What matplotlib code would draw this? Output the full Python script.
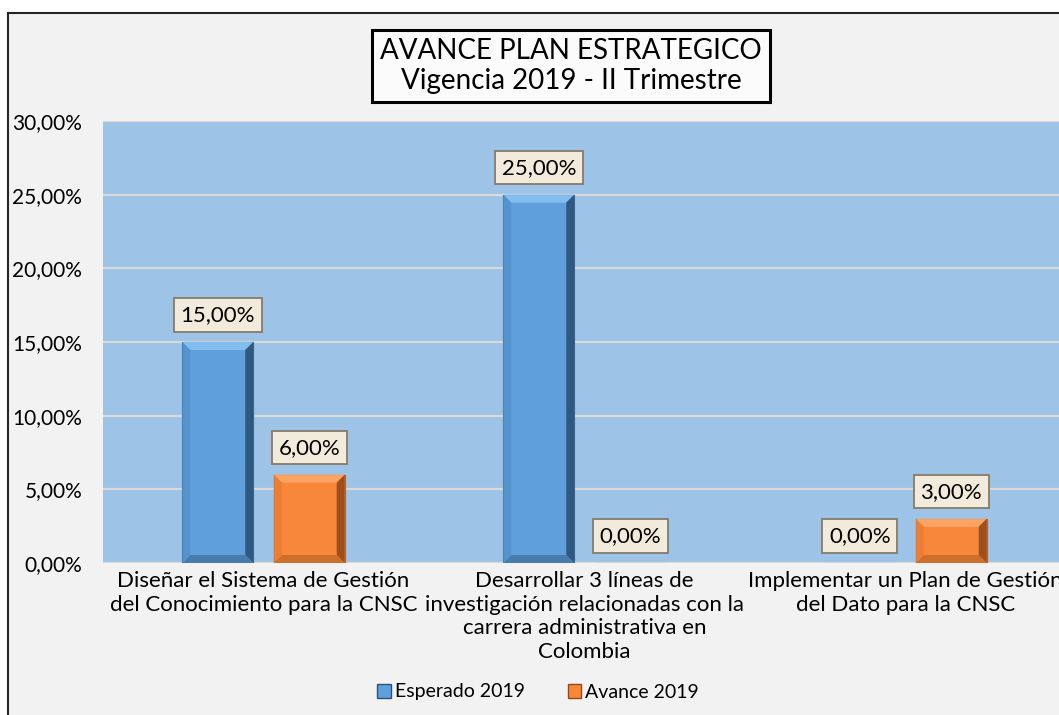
import matplotlib
matplotlib.use("Agg")
import matplotlib.pyplot as plt
from matplotlib.patches import Polygon, Rectangle, Patch
from matplotlib.ticker import FuncFormatter
import numpy as np

plt.rcParams['font.family'] = ['Lato', 'DejaVu Sans']

categories = [
    "Diseñar el Sistema de Gestión\ndel Conocimiento para la CNSC",
    "Desarrollar 3 líneas de\ninvestigación relacionadas con la\ncarrera administrativa en\nColombia",
    "Implementar un Plan de Gestión\ndel Dato para la CNSC",
]
series_names = ["Esperado 2019", "Avance 2019"]
esperado = [15.0, 25.0, 0.0]
avance = [6.0, 0.0, 3.0]
yticks = [0, 5, 10, 15, 20, 25, 30]
title_lines = ["AVANCE PLAN ESTRATEGICO", "Vigencia 2019 - II Trimestre"]

W, H = 1059, 715
DPI = 100
FS = 16
fig = plt.figure(figsize=(W / DPI, H / DPI), dpi=DPI)
fig.patch.set_facecolor('white')

# chart area background with border (left/top visible)
fig.add_artist(Rectangle((8 / W, -0.05), 1.1, 1 - 13 / H + 0.05,
                         transform=fig.transFigure, facecolor='#f2f2f2',
                         edgecolor='#262626', linewidth=1.5, zorder=0))

ax = fig.add_axes([103 / W, 1 - 563 / H, 963 / W, (563 - 121) / H])
ax.set_facecolor('#9dc3e6')
for s in ax.spines.values():
    s.set_visible(False)

x = np.arange(len(categories))
bw = 0.221
off = 0.1425
face = {'blue': '#5e9fdc', 'orange': '#f8873a'}
bevel_cols = {
    'blue': dict(top='#86c2f2', right='#2b5275', bottom='#4579a8', left='#5592cc'),
    'orange': dict(top='#fca868', right='#94491a', bottom='#c96c2a', left='#ea7e34'),
}

bars_e = ax.bar(x - off, esperado, bw, color=face['blue'], edgecolor='#3a6a96',
                linewidth=0.8, zorder=3)
bars_a = ax.bar(x + off, avance, bw, color=face['orange'], edgecolor='#b4602a',
                linewidth=0.8, zorder=3)

ax.set_xlim(-0.5, len(categories) - 0.5)
ax.set_ylim(0, 30)
ax.set_yticks(yticks)
ax.yaxis.set_major_formatter(FuncFormatter(lambda v, p: f"{v:.2f}".replace('.', ',') + '%'))
ax.yaxis.grid(True, color='#d9d9d9', linewidth=1.6, zorder=1)
ax.set_axisbelow(True)
ax.tick_params(axis='y', length=0, pad=15, labelsize=15, labelcolor='black')
ax.set_xticks(x)
ax.set_xticklabels(categories, fontsize=FS, linespacing=1.22)
ax.tick_params(axis='x', length=0, pad=6)

# bevel effect on bars (in display coordinates)
b = 8
for bars, key in ((bars_e, 'blue'), (bars_a, 'orange')):
    cols = bevel_cols[key]
    for r in bars:
        h = r.get_height()
        if h <= 0:
            continue
        (x0, y0), (x1, y1) = ax.transData.transform(
            [(r.get_x(), r.get_y()), (r.get_x() + r.get_width(), r.get_y() + h)])
        bb = min(b, (y1 - y0) / 2.2)
        polys = {
            'top': [(x0, y1), (x1, y1), (x1 - b, y1 - bb), (x0 + b, y1 - bb)],
            'right': [(x1, y1), (x1, y0), (x1 - b, y0 + bb), (x1 - b, y1 - bb)],
            'bottom': [(x0, y0), (x1, y0), (x1 - b, y0 + bb), (x0 + b, y0 + bb)],
            'left': [(x0, y0), (x0, y1), (x0 + b, y1 - bb), (x0 + b, y0 + bb)],
        }
        for k, pts in polys.items():
            ax.add_artist(Polygon(pts, closed=True, transform=None,
                                  facecolor=cols[k], edgecolor='none', zorder=4,
                                  alpha=0.9))

# data labels
for bars, vals in ((bars_e, esperado), (bars_a, avance)):
    for r, v in zip(bars, vals):
        ax.annotate(f"{v:.2f}".replace('.', ',') + '%',
                    xy=(r.get_x() + r.get_width() / 2, v),
                    xytext=(0, 27), textcoords='offset pixels',
                    ha='center', va='center', fontsize=FS, color='black',
                    zorder=6,
                    bbox=dict(boxstyle='square,pad=0.3', facecolor='#f2eadb',
                              edgecolor='#857b6a', linewidth=1.3))

# title
fig.text(571 / W, 1 - 66 / H, "\n".join(title_lines), ha='center', va='center',
         fontsize=20, linespacing=1.2, color='black', zorder=10,
         bbox=dict(boxstyle='square,pad=0.3', facecolor='#fbfbfb',
                   edgecolor='black', linewidth=2.2))

# legend
handles = [Patch(facecolor=face['blue'], edgecolor='#2b5275'),
           Patch(facecolor=face['orange'], edgecolor='#94491a')]
fig.legend(handles, series_names, loc='center', bbox_to_anchor=(538 / W, 23 / H),
           ncol=2, frameon=False, fontsize=14, handlelength=0.7, handleheight=0.7,
           handletextpad=0.2, columnspacing=2.2)

fig.savefig('out.png', dpi=DPI, facecolor=fig.get_facecolor())
